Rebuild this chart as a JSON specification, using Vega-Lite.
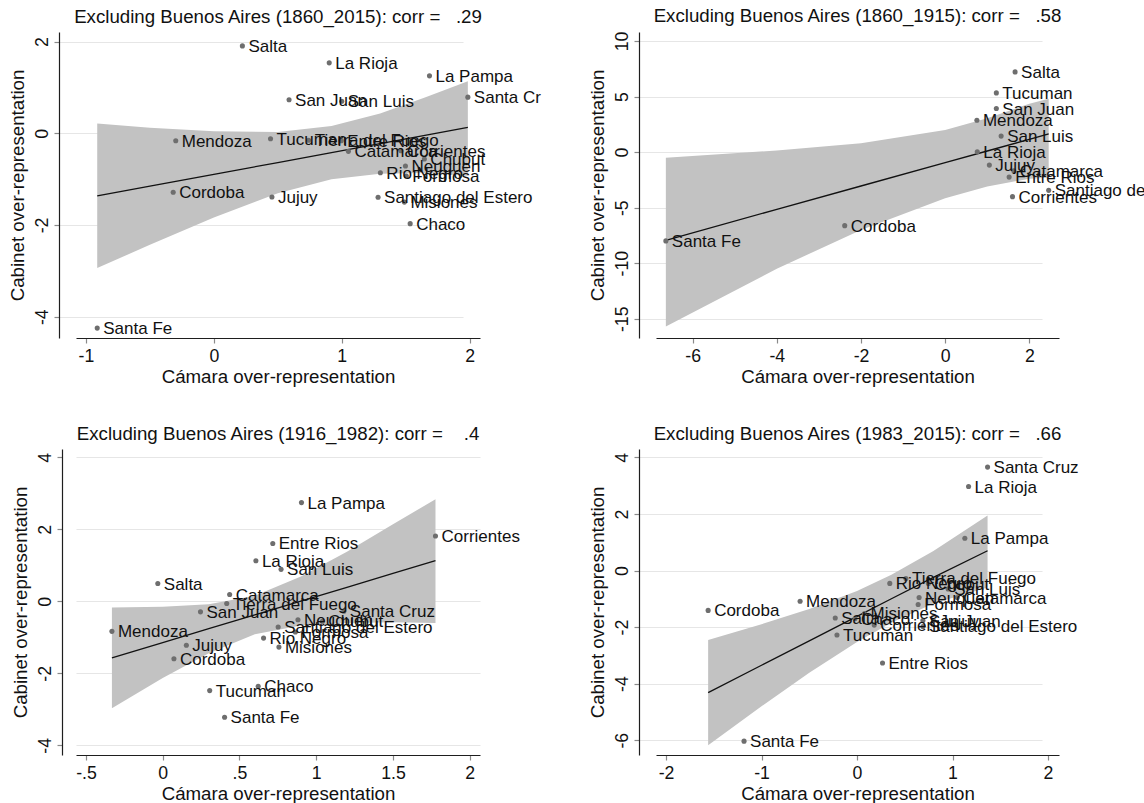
{
  "$schema": "https://vega.github.io/schema/vega-lite/v6.json",
  "padding": {"left": 8, "top": 7, "right": 0, "bottom": 0},
  "background": "white",
  "columns": 2,
  "spacing": {"row": 111, "column": 176},
  "bounds": "flush",
  "config": {
    "font": "Liberation Sans",
    "view": {"stroke": null},
    "axis": {"domainColor": "#1e1e1e", "domainWidth": 1.2, "tickColor": "#8a8a8a", "tickWidth": 1.2, "tickSize": 5, "labelFont": "Liberation Sans", "labelFontSize": 17.7, "labelColor": "#111111", "titleFont": "Liberation Sans", "titleFontSize": 18.7, "titleFontWeight": "normal", "titleColor": "#111111", "gridColor": "#e6e6e6", "gridWidth": 1.2, "labelOverlap": false},
    "axisX": {"grid": false, "labelPadding": 4, "titlePadding": 3, "labelFlush": false},
    "axisY": {"grid": true, "labelAngle": 270, "labelAlign": "center", "labelBaseline": "bottom", "labelPadding": 3, "titlePadding": 6, "offset": 17, "labelFlush": false},
    "title": {"font": "Liberation Sans", "fontSize": 18.7, "fontWeight": "normal", "color": "#111111", "anchor": "middle", "frame": "group", "offset": 5, "baseline": "alphabetic"}
  },
  "datasets": {
    "p1": [
      {"name": "Salta", "x": 0.223, "y": 1.906},
      {"name": "La Rioja", "x": 0.902, "y": 1.536},
      {"name": "La Pampa", "x": 1.686, "y": 1.253},
      {"name": "San Juan", "x": 0.588, "y": 0.73},
      {"name": "San Luis", "x": 1.0, "y": 0.7},
      {"name": "Santa Cruz", "x": 1.986, "y": 0.788},
      {"name": "Mendoza", "x": -0.298, "y": -0.163},
      {"name": "Tucuman", "x": 0.443, "y": -0.119},
      {"name": "Tierra del Fuego", "x": 0.741, "y": -0.15},
      {"name": "Entre Rios", "x": 0.996, "y": -0.16},
      {"name": "Catamarca", "x": 1.052, "y": -0.394},
      {"name": "Corrientes", "x": 1.463, "y": -0.381},
      {"name": "Chubut", "x": 1.646, "y": -0.561},
      {"name": "Neuquen", "x": 1.498, "y": -0.714},
      {"name": "Rio Negro", "x": 1.302, "y": -0.86},
      {"name": "Formosa", "x": 1.505, "y": -0.93},
      {"name": "Cordoba", "x": -0.318, "y": -1.287},
      {"name": "Jujuy", "x": 0.454, "y": -1.389},
      {"name": "Santiago del Estero", "x": 1.284, "y": -1.396},
      {"name": "Misiones", "x": 1.49, "y": -1.5},
      {"name": "Chaco", "x": 1.535, "y": -1.97},
      {"name": "Santa Fe", "x": -0.912, "y": -4.248}
    ],
    "b1": [
      {"x": -0.912, "lo": -2.94, "hi": 0.215, "fit": -1.367},
      {"x": -0.5, "lo": -2.43, "hi": 0.12, "fit": -1.154},
      {"x": 0, "lo": -1.835, "hi": 0.043, "fit": -0.896},
      {"x": 0.5, "lo": -1.31, "hi": 0.03, "fit": -0.638},
      {"x": 0.92, "lo": -1.0, "hi": 0.16, "fit": -0.42},
      {"x": 1.3, "lo": -0.88, "hi": 0.43, "fit": -0.224},
      {"x": 1.65, "lo": -0.865, "hi": 0.78, "fit": -0.043},
      {"x": 1.986, "lo": -0.925, "hi": 1.136, "fit": 0.128}
    ],
    "p2": [
      {"name": "Salta", "x": 1.662, "y": 7.22},
      {"name": "Tucuman", "x": 1.216, "y": 5.33},
      {"name": "San Juan", "x": 1.216, "y": 3.92},
      {"name": "Mendoza", "x": 0.754, "y": 2.87},
      {"name": "San Luis", "x": 1.33, "y": 1.44},
      {"name": "La Rioja", "x": 0.763, "y": 0.03},
      {"name": "Jujuy", "x": 1.05, "y": -1.17},
      {"name": "Catamarca", "x": 1.63, "y": -1.68},
      {"name": "Entre Rios", "x": 1.52, "y": -2.25},
      {"name": "Corrientes", "x": 1.6, "y": -4.01},
      {"name": "Santiago del Estero", "x": 2.46, "y": -3.44},
      {"name": "Cordoba", "x": -2.387, "y": -6.62},
      {"name": "Santa Fe", "x": -6.637, "y": -7.99}
    ],
    "b2": [
      {"x": -6.637, "lo": -15.7, "hi": -0.5, "fit": -7.95},
      {"x": -4, "lo": -10.5, "hi": 0.15, "fit": -5.15},
      {"x": -2, "lo": -7.0, "hi": 0.8, "fit": -3.05},
      {"x": 0, "lo": -4.15, "hi": 2.0, "fit": -0.95},
      {"x": 1, "lo": -3.1, "hi": 3.05, "fit": 0.1},
      {"x": 2, "lo": -2.4, "hi": 4.35, "fit": 1.15},
      {"x": 2.46, "lo": -2.3, "hi": 4.8, "fit": 1.65}
    ],
    "p3": [
      {"name": "La Pampa", "x": 0.904, "y": 2.745},
      {"name": "Corrientes", "x": 1.777, "y": 1.816},
      {"name": "Entre Rios", "x": 0.717, "y": 1.61},
      {"name": "La Rioja", "x": 0.607, "y": 1.13},
      {"name": "San Luis", "x": 0.771, "y": 0.89},
      {"name": "Salta", "x": -0.032, "y": 0.496},
      {"name": "Catamarca", "x": 0.436, "y": 0.19},
      {"name": "Tierra del Fuego", "x": 0.417, "y": -0.06},
      {"name": "San Juan", "x": 0.246, "y": -0.29},
      {"name": "Santa Cruz", "x": 1.18, "y": -0.275},
      {"name": "Neuquen", "x": 0.881, "y": -0.51},
      {"name": "Chubut", "x": 1.04, "y": -0.55},
      {"name": "Santiago del Estero", "x": 0.752, "y": -0.71},
      {"name": "Formosa", "x": 0.864, "y": -0.85},
      {"name": "Rio Negro", "x": 0.657, "y": -1.02},
      {"name": "Misiones", "x": 0.757, "y": -1.27},
      {"name": "Mendoza", "x": -0.331, "y": -0.833},
      {"name": "Jujuy", "x": 0.154, "y": -1.22},
      {"name": "Cordoba", "x": 0.073, "y": -1.595},
      {"name": "Tucuman", "x": 0.306, "y": -2.478},
      {"name": "Chaco", "x": 0.622, "y": -2.357},
      {"name": "Santa Fe", "x": 0.403, "y": -3.22}
    ],
    "b3": [
      {"x": -0.331, "lo": -2.97, "hi": -0.17, "fit": -1.567},
      {"x": 0, "lo": -2.13, "hi": -0.15, "fit": -1.144},
      {"x": 0.3, "lo": -1.44, "hi": -0.08, "fit": -0.76},
      {"x": 0.6, "lo": -0.91, "hi": 0.16, "fit": -0.376},
      {"x": 0.9, "lo": -0.67, "hi": 0.69, "fit": 0.008},
      {"x": 1.2, "lo": -0.6, "hi": 1.38, "fit": 0.39},
      {"x": 1.5, "lo": -0.58, "hi": 2.14, "fit": 0.776},
      {"x": 1.777, "lo": -0.6, "hi": 2.84, "fit": 1.13}
    ],
    "p4": [
      {"name": "Santa Cruz", "x": 1.367, "y": 3.657},
      {"name": "La Rioja", "x": 1.168, "y": 2.97},
      {"name": "La Pampa", "x": 1.129, "y": 1.14},
      {"name": "Tierra del Fuego", "x": 0.512, "y": -0.28},
      {"name": "Rio Negro", "x": 0.343, "y": -0.456},
      {"name": "Chubut", "x": 0.747, "y": -0.46},
      {"name": "San Luis", "x": 0.954, "y": -0.65},
      {"name": "Neuquen", "x": 0.65, "y": -0.955},
      {"name": "Catamarca", "x": 1.05, "y": -0.955},
      {"name": "Formosa", "x": 0.64, "y": -1.2},
      {"name": "Mendoza", "x": -0.596, "y": -1.085},
      {"name": "Cordoba", "x": -1.559, "y": -1.41},
      {"name": "Salta", "x": -0.228, "y": -1.68},
      {"name": "Chaco", "x": -0.02, "y": -1.7},
      {"name": "Misiones", "x": 0.078, "y": -1.52},
      {"name": "Corrientes", "x": 0.18, "y": -1.93},
      {"name": "San Juan", "x": 0.69, "y": -1.77},
      {"name": "Jujuy", "x": 0.8, "y": -1.78},
      {"name": "Santiago del Estero", "x": 0.69, "y": -1.98},
      {"name": "Tucuman", "x": -0.21, "y": -2.28},
      {"name": "Entre Rios", "x": 0.267, "y": -3.27},
      {"name": "Santa Fe", "x": -1.183, "y": -6.035}
    ],
    "b4": [
      {"x": -1.559, "lo": -6.18, "hi": -2.46, "fit": -4.32},
      {"x": -1, "lo": -4.8, "hi": -1.9, "fit": -3.35},
      {"x": -0.5, "lo": -3.62, "hi": -1.36, "fit": -2.49},
      {"x": 0, "lo": -2.53, "hi": -0.72, "fit": -1.62},
      {"x": 0.36, "lo": -1.85, "hi": -0.15, "fit": -0.998},
      {"x": 0.8, "lo": -1.17, "hi": 0.69, "fit": -0.24},
      {"x": 1.367, "lo": -0.6, "hi": 1.95, "fit": 0.7}
    ]
  },
  "concat": [
    {
      "width": 404, "height": 306,
      "title": {"text": "Excluding Buenos Aires (1860_2015): corr =\u00a0\u00a0\u00a0.29"},
      "layer": [
        {"data": {"name": "b1"}, "mark": {"type": "area", "color": "#c2c2c2", "opacity": 1},
         "encoding": {
           "x": {"field": "x", "type": "quantitative", "scale": {"domain": [-1.078, 2.081], "nice": false, "zero": false}, "title": "Cámara over-representation", "axis": {"values": [-1, 0, 1, 2], "labelExpr": "toString(datum.value)"}},
           "y": {"field": "lo", "type": "quantitative", "scale": {"domain": [-4.464, 2.209], "nice": false, "zero": false}, "title": "Cabinet over-representation", "axis": {"values": [-4, -2, 0, 2], "labelExpr": "toString(datum.value)"}},
           "y2": {"field": "hi"}}},
        {"data": {"name": "b1"}, "mark": {"type": "line", "color": "#111111", "strokeWidth": 1.3},
         "encoding": {
           "x": {"field": "x", "type": "quantitative", "scale": {"domain": [-1.078, 2.081], "nice": false, "zero": false}, "title": "Cámara over-representation"},
           "y": {"field": "fit", "type": "quantitative", "scale": {"domain": [-4.464, 2.209], "nice": false, "zero": false}, "title": "Cabinet over-representation"}}},
        {"data": {"name": "p1"}, "mark": {"type": "circle", "size": 26, "color": "#6e6e6e", "opacity": 1},
         "encoding": {
           "x": {"field": "x", "type": "quantitative", "scale": {"domain": [-1.078, 2.081], "nice": false, "zero": false}, "title": "Cámara over-representation"},
           "y": {"field": "y", "type": "quantitative", "scale": {"domain": [-4.464, 2.209], "nice": false, "zero": false}, "title": "Cabinet over-representation"}}},
        {"data": {"name": "p1"}, "transform": [{"filter": "datum.name != 'Santa Cruz'"}],
         "mark": {"type": "text", "align": "left", "baseline": "alphabetic", "dx": 6, "dy": 6, "fontSize": 17, "font": "Liberation Sans", "color": "#111111"},
         "encoding": {
           "x": {"field": "x", "type": "quantitative", "scale": {"domain": [-1.078, 2.081], "nice": false, "zero": false}, "title": "Cámara over-representation"},
           "y": {"field": "y", "type": "quantitative", "scale": {"domain": [-4.464, 2.209], "nice": false, "zero": false}, "title": "Cabinet over-representation"},
           "text": {"field": "name"}}},
        {"data": {"name": "p1"}, "transform": [{"filter": "datum.name == 'Santa Cruz'"}],
         "mark": {"type": "text", "align": "left", "baseline": "alphabetic", "dx": 6, "dy": 6, "fontSize": 17, "font": "Liberation Sans", "color": "#111111", "limit": 70, "ellipsis": "\u200b"},
         "encoding": {
           "x": {"field": "x", "type": "quantitative", "scale": {"domain": [-1.078, 2.081], "nice": false, "zero": false}, "title": "Cámara over-representation"},
           "y": {"field": "y", "type": "quantitative", "scale": {"domain": [-4.464, 2.209], "nice": false, "zero": false}, "title": "Cabinet over-representation"},
           "text": {"field": "name"}}}
      ]
    },
    {
      "width": 403, "height": 306,
      "title": {"text": "Excluding Buenos Aires (1860_1915): corr =\u00a0\u00a0\u00a0.58"},
      "layer": [
        {"data": {"name": "b2"}, "mark": {"type": "area", "color": "#c2c2c2", "opacity": 1},
         "encoding": {
           "x": {"field": "x", "type": "quantitative", "scale": {"domain": [-6.871, 2.705], "nice": false, "zero": false}, "title": "Cámara over-representation", "axis": {"values": [-6, -4, -2, 0, 2], "labelExpr": "toString(datum.value)"}},
           "y": {"field": "lo", "type": "quantitative", "scale": {"domain": [-16.73, 10.81], "nice": false, "zero": false}, "title": "Cabinet over-representation", "axis": {"values": [-15, -10, -5, 0, 5, 10], "labelExpr": "toString(datum.value)"}},
           "y2": {"field": "hi"}}},
        {"data": {"name": "b2"}, "mark": {"type": "line", "color": "#111111", "strokeWidth": 1.3},
         "encoding": {
           "x": {"field": "x", "type": "quantitative", "scale": {"domain": [-6.871, 2.705], "nice": false, "zero": false}, "title": "Cámara over-representation"},
           "y": {"field": "fit", "type": "quantitative", "scale": {"domain": [-16.73, 10.81], "nice": false, "zero": false}, "title": "Cabinet over-representation"}}},
        {"data": {"name": "p2"}, "mark": {"type": "circle", "size": 26, "color": "#6e6e6e", "opacity": 1},
         "encoding": {
           "x": {"field": "x", "type": "quantitative", "scale": {"domain": [-6.871, 2.705], "nice": false, "zero": false}, "title": "Cámara over-representation"},
           "y": {"field": "y", "type": "quantitative", "scale": {"domain": [-16.73, 10.81], "nice": false, "zero": false}, "title": "Cabinet over-representation"}}},
        {"data": {"name": "p2"}, "transform": [{"filter": "datum.name != 'Santiago del Estero'"}],
         "mark": {"type": "text", "align": "left", "baseline": "alphabetic", "dx": 6, "dy": 6, "fontSize": 17, "font": "Liberation Sans", "color": "#111111"},
         "encoding": {
           "x": {"field": "x", "type": "quantitative", "scale": {"domain": [-6.871, 2.705], "nice": false, "zero": false}, "title": "Cámara over-representation"},
           "y": {"field": "y", "type": "quantitative", "scale": {"domain": [-16.73, 10.81], "nice": false, "zero": false}, "title": "Cabinet over-representation"},
           "text": {"field": "name"}}},
        {"data": {"name": "p2"}, "transform": [{"filter": "datum.name == 'Santiago del Estero'"}],
         "mark": {"type": "text", "align": "left", "baseline": "alphabetic", "dx": 6, "dy": 6, "fontSize": 17, "font": "Liberation Sans", "color": "#111111", "limit": 92, "ellipsis": "\u200b"},
         "encoding": {
           "x": {"field": "x", "type": "quantitative", "scale": {"domain": [-6.871, 2.705], "nice": false, "zero": false}, "title": "Cámara over-representation"},
           "y": {"field": "y", "type": "quantitative", "scale": {"domain": [-16.73, 10.81], "nice": false, "zero": false}, "title": "Cabinet over-representation"},
           "text": {"field": "name"}}}
      ]
    },
    {
      "width": 404, "height": 306,
      "title": {"text": "Excluding Buenos Aires (1916_1982): corr =\u00a0\u00a0\u00a0\u00a0.4"},
      "layer": [
        {"data": {"name": "b3"}, "mark": {"type": "area", "color": "#c2c2c2", "opacity": 1},
         "encoding": {
           "x": {"field": "x", "type": "quantitative", "scale": {"domain": [-0.565, 2.067], "nice": false, "zero": false}, "title": "Cámara over-representation", "axis": {"values": [-0.5, 0, 0.5, 1, 1.5, 2], "labelExpr": "datum.value == 0.5 ? '.5' : datum.value == -0.5 ? '-.5' : toString(datum.value)"}},
           "y": {"field": "lo", "type": "quantitative", "scale": {"domain": [-4.268, 4.234], "nice": false, "zero": false}, "title": "Cabinet over-representation", "axis": {"values": [-4, -2, 0, 2, 4], "labelExpr": "toString(datum.value)", "offset": 14}},
           "y2": {"field": "hi"}}},
        {"data": {"name": "b3"}, "mark": {"type": "line", "color": "#111111", "strokeWidth": 1.3},
         "encoding": {
           "x": {"field": "x", "type": "quantitative", "scale": {"domain": [-0.565, 2.067], "nice": false, "zero": false}, "title": "Cámara over-representation"},
           "y": {"field": "fit", "type": "quantitative", "scale": {"domain": [-4.268, 4.234], "nice": false, "zero": false}, "title": "Cabinet over-representation"}}},
        {"data": {"name": "p3"}, "mark": {"type": "circle", "size": 26, "color": "#6e6e6e", "opacity": 1},
         "encoding": {
           "x": {"field": "x", "type": "quantitative", "scale": {"domain": [-0.565, 2.067], "nice": false, "zero": false}, "title": "Cámara over-representation"},
           "y": {"field": "y", "type": "quantitative", "scale": {"domain": [-4.268, 4.234], "nice": false, "zero": false}, "title": "Cabinet over-representation"}}},
        {"data": {"name": "p3"},
         "mark": {"type": "text", "align": "left", "baseline": "alphabetic", "dx": 6, "dy": 6, "fontSize": 17, "font": "Liberation Sans", "color": "#111111"},
         "encoding": {
           "x": {"field": "x", "type": "quantitative", "scale": {"domain": [-0.565, 2.067], "nice": false, "zero": false}, "title": "Cámara over-representation"},
           "y": {"field": "y", "type": "quantitative", "scale": {"domain": [-4.268, 4.234], "nice": false, "zero": false}, "title": "Cabinet over-representation"},
           "text": {"field": "name"}}}
      ]
    },
    {
      "width": 403, "height": 306,
      "title": {"text": "Excluding Buenos Aires (1983_2015): corr =\u00a0\u00a0\u00a0.66"},
      "layer": [
        {"data": {"name": "b4"}, "mark": {"type": "area", "color": "#c2c2c2", "opacity": 1},
         "encoding": {
           "x": {"field": "x", "type": "quantitative", "scale": {"domain": [-2.105, 2.115], "nice": false, "zero": false}, "title": "Cámara over-representation", "axis": {"values": [-2, -1, 0, 1, 2], "labelExpr": "toString(datum.value)"}},
           "y": {"field": "lo", "type": "quantitative", "scale": {"domain": [-6.525, 4.298], "nice": false, "zero": false}, "title": "Cabinet over-representation", "axis": {"values": [-6, -4, -2, 0, 2, 4], "labelExpr": "toString(datum.value)"}},
           "y2": {"field": "hi"}}},
        {"data": {"name": "b4"}, "mark": {"type": "line", "color": "#111111", "strokeWidth": 1.3},
         "encoding": {
           "x": {"field": "x", "type": "quantitative", "scale": {"domain": [-2.105, 2.115], "nice": false, "zero": false}, "title": "Cámara over-representation"},
           "y": {"field": "fit", "type": "quantitative", "scale": {"domain": [-6.525, 4.298], "nice": false, "zero": false}, "title": "Cabinet over-representation"}}},
        {"data": {"name": "p4"}, "mark": {"type": "circle", "size": 26, "color": "#6e6e6e", "opacity": 1},
         "encoding": {
           "x": {"field": "x", "type": "quantitative", "scale": {"domain": [-2.105, 2.115], "nice": false, "zero": false}, "title": "Cámara over-representation"},
           "y": {"field": "y", "type": "quantitative", "scale": {"domain": [-6.525, 4.298], "nice": false, "zero": false}, "title": "Cabinet over-representation"}}},
        {"data": {"name": "p4"},
         "mark": {"type": "text", "align": "left", "baseline": "alphabetic", "dx": 6, "dy": 6, "fontSize": 17, "font": "Liberation Sans", "color": "#111111"},
         "encoding": {
           "x": {"field": "x", "type": "quantitative", "scale": {"domain": [-2.105, 2.115], "nice": false, "zero": false}, "title": "Cámara over-representation"},
           "y": {"field": "y", "type": "quantitative", "scale": {"domain": [-6.525, 4.298], "nice": false, "zero": false}, "title": "Cabinet over-representation"},
           "text": {"field": "name"}}}
      ]
    }
  ]
}
